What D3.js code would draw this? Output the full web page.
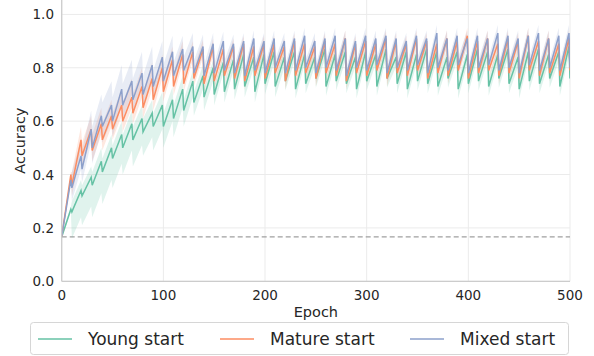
<!DOCTYPE html>
<html>
<head>
<meta charset="utf-8">
<script src="https://cdn.jsdelivr.net/npm/d3@7"></script>
<style>
  body { margin: 0; background: #fff; }
  text { font-family: "DejaVu Sans", sans-serif; fill: #262626; }
  .grid line { stroke: #ebebeb; stroke-width: 1; }
  .spine { stroke: #cccccc; stroke-width: 1.25; }
  .line { fill: none; stroke-width: 1.5; }
</style>
</head>
<body>
<div id="chart"></div>
<script>

  // one cycle = 10 epochs; value right after the drop (epoch 10k) and peak (epoch 10k+9)
  var seriesNames = ["Young start", "Mature start", "Mixed start"];
  var colors = ["#66c2a5", "#fc8d62", "#8da0cb"];
  var xTicks = [0, 100, 200, 300, 400, 500];
  var yTicks = [0.0, 0.2, 0.4, 0.6, 0.8, 1.0];
  var chance = 1 / 6;

  var youngDip = [0.167, 0.26, 0.32, 0.36, 0.41, 0.46, 0.50, 0.53, 0.56, 0.58,
    0.58, 0.61, 0.64, 0.67, 0.69, 0.70, 0.71, 0.72, 0.73, 0.71,
    0.74, 0.73, 0.75, 0.72, 0.74, 0.76, 0.73, 0.75, 0.74, 0.72,
    0.75, 0.73, 0.76, 0.74, 0.72, 0.75, 0.74, 0.73, 0.76, 0.72,
    0.74, 0.75, 0.73, 0.76, 0.74, 0.72, 0.75, 0.74, 0.76, 0.73, 0.76];
  var youngPeak = [0.27, 0.34, 0.39, 0.45, 0.50, 0.55, 0.59, 0.61, 0.63, 0.66,
    0.68, 0.72, 0.75, 0.77, 0.80, 0.82, 0.83, 0.85, 0.84, 0.85,
    0.86, 0.84, 0.86, 0.85, 0.84, 0.87, 0.85, 0.86, 0.84, 0.86,
    0.85, 0.87, 0.84, 0.86, 0.85, 0.87, 0.86, 0.84, 0.86, 0.85,
    0.87, 0.86, 0.85, 0.87, 0.84, 0.86, 0.87, 0.85, 0.86, 0.88];

  var matureDip = [0.167, 0.36, 0.47, 0.49, 0.53, 0.57, 0.60, 0.63, 0.65, 0.68,
    0.71, 0.73, 0.74, 0.76, 0.74, 0.75, 0.77, 0.76, 0.75, 0.77,
    0.76, 0.78, 0.75, 0.77, 0.78, 0.76, 0.78, 0.77, 0.75, 0.78,
    0.77, 0.79, 0.76, 0.78, 0.77, 0.79, 0.76, 0.78, 0.77, 0.79,
    0.76, 0.78, 0.79, 0.77, 0.78, 0.76, 0.79, 0.77, 0.78, 0.77, 0.79];
  var maturePeak = [0.40, 0.53, 0.57, 0.59, 0.62, 0.66, 0.69, 0.73, 0.76, 0.80,
    0.83, 0.85, 0.86, 0.87, 0.88, 0.87, 0.88, 0.89, 0.88, 0.89,
    0.89, 0.88, 0.90, 0.89, 0.88, 0.90, 0.89, 0.91, 0.89, 0.90,
    0.89, 0.91, 0.90, 0.89, 0.91, 0.90, 0.89, 0.91, 0.90, 0.92,
    0.90, 0.91, 0.89, 0.91, 0.90, 0.92, 0.90, 0.91, 0.89, 0.91];

  var mixedDip = [0.167, 0.35, 0.42, 0.50, 0.58, 0.60, 0.66, 0.68, 0.70, 0.73,
    0.75, 0.77, 0.79, 0.78, 0.77, 0.78, 0.79, 0.78, 0.77, 0.79,
    0.78, 0.80, 0.78, 0.79, 0.80, 0.78, 0.80, 0.79, 0.77, 0.80,
    0.79, 0.81, 0.78, 0.80, 0.79, 0.81, 0.78, 0.80, 0.79, 0.81,
    0.78, 0.80, 0.81, 0.79, 0.80, 0.78, 0.81, 0.79, 0.80, 0.79, 0.80];
  var mixedPeak = [0.38, 0.47, 0.57, 0.62, 0.66, 0.72, 0.75, 0.78, 0.81, 0.84,
    0.86, 0.87, 0.88, 0.88, 0.89, 0.90, 0.89, 0.90, 0.91, 0.90,
    0.91, 0.90, 0.91, 0.92, 0.90, 0.91, 0.92, 0.91, 0.90, 0.92,
    0.91, 0.92, 0.91, 0.90, 0.92, 0.91, 0.93, 0.91, 0.92, 0.91,
    0.92, 0.91, 0.93, 0.92, 0.91, 0.92, 0.93, 0.91, 0.92, 0.93];

  // band reach below / above the mean line, per cycle
  var youngLo = [0.01, 0.10, 0.11, 0.12, 0.12, 0.11, 0.10, 0.10, 0.09, 0.09,
    0.08, 0.07, 0.06, 0.05, 0.05, 0.04, 0.04, 0.04, 0.04, 0.04,
    0.04, 0.04, 0.035, 0.035, 0.035, 0.035, 0.035, 0.035, 0.035, 0.035,
    0.035, 0.035, 0.035, 0.035, 0.035, 0.035, 0.035, 0.035, 0.035, 0.035,
    0.035, 0.035, 0.035, 0.035, 0.035, 0.035, 0.035, 0.035, 0.035, 0.035, 0.035];
  var youngHi = [0.01, 0.04, 0.04, 0.05, 0.05, 0.05, 0.05, 0.05, 0.05, 0.05,
    0.05, 0.05, 0.04, 0.04, 0.03, 0.03, 0.03, 0.03, 0.03, 0.03,
    0.03, 0.03, 0.03, 0.03, 0.03, 0.03, 0.03, 0.03, 0.03, 0.03,
    0.03, 0.03, 0.03, 0.03, 0.03, 0.03, 0.03, 0.03, 0.03, 0.03,
    0.03, 0.03, 0.03, 0.03, 0.03, 0.03, 0.03, 0.03, 0.03, 0.03, 0.03];
  var matureLo = [0.01, 0.04, 0.04, 0.04, 0.04, 0.04, 0.04, 0.04, 0.04, 0.04,
    0.035, 0.035, 0.03, 0.03, 0.03, 0.03, 0.03, 0.03, 0.03, 0.03,
    0.03, 0.03, 0.03, 0.03, 0.03, 0.03, 0.03, 0.03, 0.03, 0.03,
    0.03, 0.03, 0.03, 0.03, 0.03, 0.03, 0.03, 0.03, 0.03, 0.03,
    0.03, 0.03, 0.03, 0.03, 0.03, 0.03, 0.03, 0.03, 0.03, 0.03, 0.03];
  var matureHi = [0.01, 0.05, 0.05, 0.06, 0.06, 0.06, 0.07, 0.07, 0.06, 0.05,
    0.05, 0.05, 0.04, 0.035, 0.03, 0.03, 0.03, 0.03, 0.03, 0.03,
    0.03, 0.03, 0.03, 0.03, 0.03, 0.03, 0.03, 0.03, 0.03, 0.03,
    0.03, 0.03, 0.03, 0.03, 0.03, 0.03, 0.03, 0.03, 0.03, 0.03,
    0.03, 0.03, 0.03, 0.03, 0.03, 0.03, 0.03, 0.03, 0.03, 0.03, 0.03];
  var mixedLo = [0.01, 0.05, 0.05, 0.06, 0.06, 0.06, 0.05, 0.05, 0.05, 0.04,
    0.04, 0.035, 0.03, 0.03, 0.03, 0.03, 0.03, 0.03, 0.03, 0.03,
    0.03, 0.03, 0.03, 0.03, 0.03, 0.03, 0.03, 0.03, 0.03, 0.03,
    0.03, 0.03, 0.03, 0.03, 0.03, 0.03, 0.03, 0.03, 0.03, 0.03,
    0.03, 0.03, 0.03, 0.03, 0.03, 0.03, 0.03, 0.03, 0.03, 0.03, 0.03];
  var mixedHi = [0.01, 0.06, 0.07, 0.08, 0.09, 0.09, 0.08, 0.08, 0.07, 0.06,
    0.06, 0.05, 0.05, 0.045, 0.04, 0.035, 0.035, 0.03, 0.03, 0.03,
    0.03, 0.03, 0.03, 0.03, 0.03, 0.03, 0.03, 0.03, 0.03, 0.03,
    0.03, 0.03, 0.03, 0.03, 0.03, 0.03, 0.03, 0.03, 0.03, 0.03,
    0.03, 0.03, 0.03, 0.03, 0.03, 0.03, 0.03, 0.03, 0.03, 0.03, 0.03];

  var dips = [youngDip, matureDip, mixedDip];
  var peaks = [youngPeak, maturePeak, mixedPeak];
  var los = [youngLo, matureLo, mixedLo];
  var his = [youngHi, matureHi, mixedHi];

  // turn cycle tables into points
  function buildSeries(s) {
    var pts = [];
    for (var k = 0; k < peaks[s].length; k++) {
      pts.push({ e: k * 10, v: dips[s][k], lo: los[s][k], hi: his[s][k] });
      pts.push({ e: k * 10 + 9, v: peaks[s][k], lo: los[s][k], hi: his[s][k] });
    }
    var last = dips[s].length - 1;
    pts.push({ e: last * 10, v: dips[s][last], lo: los[s][last], hi: his[s][last] });
    return pts;
  }

  var width = 594, height = 356;
  var plotLeft = 61.7, plotRight = 570, plotTop = 0, plotBottom = 281.3;

  var xScale = d3.scaleLinear().domain([0, 500]).range([plotLeft, plotRight]);
  var yScale = d3.scaleLinear().domain([0, 1.054]).range([plotBottom, plotTop]);

  var svg = d3.select("#chart").append("svg")
    .attr("width", width)
    .attr("height", height);

  // grid
  var grid = svg.append("g").attr("class", "grid");
  grid.selectAll(".gx").data(xTicks).enter().append("line")
    .attr("x1", function (d) { return xScale(d); })
    .attr("x2", function (d) { return xScale(d); })
    .attr("y1", plotTop).attr("y2", plotBottom);
  grid.selectAll(".gy").data(yTicks).enter().append("line")
    .attr("x1", plotLeft).attr("x2", plotRight)
    .attr("y1", function (d) { return yScale(d); })
    .attr("y2", function (d) { return yScale(d); });

  svg.append("clipPath").attr("id", "plot")
    .append("rect").attr("x", plotLeft).attr("y", plotTop)
    .attr("width", plotRight - plotLeft).attr("height", plotBottom - plotTop);

  var plot = svg.append("g").attr("clip-path", "url(#plot)");

  var area = d3.area()
    .x(function (d) { return xScale(d.e); })
    .y0(function (d) { return yScale(d.v - d.lo); })
    .y1(function (d) { return yScale(d.v + d.hi); });

  var line = d3.line()
    .x(function (d) { return xScale(d.e); })
    .y(function (d) { return yScale(d.v); });

  // chance level
  plot.append("line")
    .attr("x1", xScale(0)).attr("x2", xScale(500))
    .attr("y1", yScale(chance)).attr("y2", yScale(chance))
    .attr("stroke", "#a0a0a0")
    .attr("stroke-width", 1.3)
    .attr("stroke-dasharray", "5,3");

  seriesNames.forEach(function (name, s) {
    plot.append("path")
      .datum(buildSeries(s))
      .attr("fill", colors[s])
      .attr("fill-opacity", 0.2)
      .attr("d", area);
  });
  seriesNames.forEach(function (name, s) {
    plot.append("path")
      .datum(buildSeries(s))
      .attr("class", "line")
      .attr("stroke", colors[s])
      .attr("d", line);
  });

  // spines
  svg.append("line").attr("class", "spine")
    .attr("x1", plotLeft).attr("x2", plotLeft).attr("y1", plotTop).attr("y2", plotBottom);
  svg.append("line").attr("class", "spine")
    .attr("x1", plotLeft).attr("x2", plotRight).attr("y1", plotBottom).attr("y2", plotBottom);

  // tick labels
  svg.selectAll(".xt").data(xTicks).enter().append("text")
    .attr("x", function (d) { return xScale(d); })
    .attr("y", 300)
    .attr("text-anchor", "middle")
    .attr("font-size", "13.5px")
    .text(function (d) { return d; });
  svg.selectAll(".yt").data(yTicks).enter().append("text")
    .attr("x", 54)
    .attr("y", function (d) { return yScale(d) + 5; })
    .attr("text-anchor", "end")
    .attr("font-size", "13.5px")
    .text(function (d) { return d.toFixed(1); });

  svg.append("text")
    .attr("x", (plotLeft + plotRight) / 2)
    .attr("y", 317)
    .attr("text-anchor", "middle")
    .attr("font-size", "14.5px")
    .text("Epoch");
  svg.append("text")
    .attr("transform", "translate(25," + ((plotTop + plotBottom) / 2) + ") rotate(-90)")
    .attr("text-anchor", "middle")
    .attr("font-size", "14.5px")
    .text("Accuracy");

  // legend
  var legend = svg.append("g");
  legend.append("rect")
    .attr("x", 30.5).attr("y", 322.5)
    .attr("width", 538).attr("height", 32)
    .attr("rx", 3)
    .attr("fill", "#fff")
    .attr("stroke", "#d6d6d6");
  var legendX = [38, 220, 410];
  seriesNames.forEach(function (name, s) {
    legend.append("line")
      .attr("x1", legendX[s]).attr("x2", legendX[s] + 34)
      .attr("y1", 339).attr("y2", 339)
      .attr("stroke", colors[s])
      .attr("stroke-width", 1.5);
    legend.append("text")
      .attr("x", legendX[s] + 50)
      .attr("y", 345)
      .attr("font-size", "17px")
      .text(name);
  });

</script>
</body>
</html>
